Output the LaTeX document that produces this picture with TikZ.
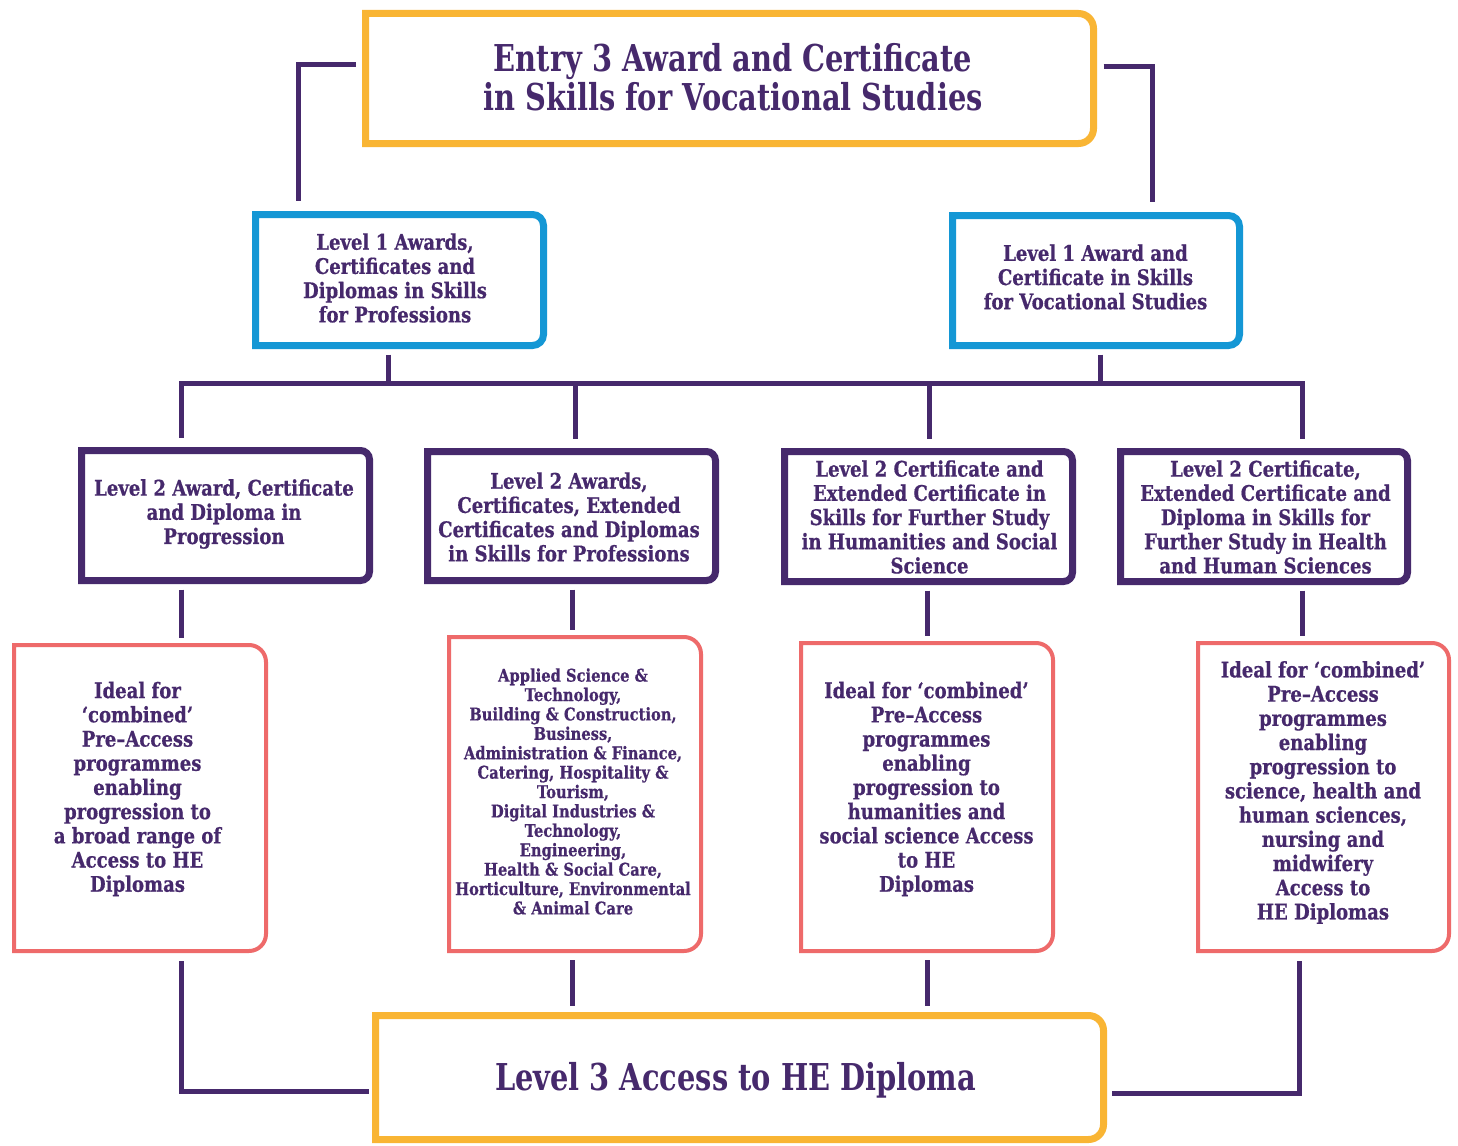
\documentclass[tikz,border=0pt]{standalone}
\usepackage{fontspec}
\newfontfamily\bodyf{DejaVu Serif}[FakeStretch=0.84,FakeBold=0.6]
\newfontfamily\titlef{DejaVu Serif}[FakeStretch=0.78]
\definecolor{cpurple}{HTML}{46296C}
\definecolor{cblue}{HTML}{1497D5}
\definecolor{cyel}{HTML}{F9B534}
\definecolor{cpink}{HTML}{EE6A6A}
% frame with square left corners and rounded right corners
\newcommand\frameit[4]{%
  \begin{scope}[x=1pt,y=1pt]
  \draw[#2, line width=#3, line join=miter]
    (#1.south west) -- (#1.north west) -- ([xshift=-#4pt]#1.north east)
    arc[start angle=90,end angle=0,radius=#4] -- ([yshift=#4pt]#1.south east)
    arc[start angle=0,end angle=-90,radius=#4] -- cycle;
  \end{scope}}
\tikzset{
  box/.style={rectangle, inner sep=0pt, outer sep=0pt},
  conn/.style={draw=cpurple, line width=5pt},
  txt/.style={text=cpurple, align=center, inner sep=0pt},
  ttl/.style={txt, font=\titlef\bfseries\fontsize{37}{39}\selectfont},
  bt/.style={txt, font=\bodyf\bfseries\fontsize{21.5}{24.2}\selectfont},
  st/.style={txt, font=\bodyf\bfseries\fontsize{17.5}{19.4}\selectfont},
}
\begin{document}
\begin{tikzpicture}[x=1pt,y=-1pt]
\useasboundingbox (0,0) rectangle (1458,1145);
\fill[white] (0,0) rectangle (1458,1145);
% boxes
\node[box, minimum width=728pt, minimum height=130pt] (T) at (729.5,78.5) {};
\frameit{T}{cyel}{7pt}{15}
\node[box, minimum width=288pt, minimum height=131pt] (L1a) at (399.5,280) {};
\frameit{L1a}{cblue}{7pt}{11}
\node[box, minimum width=287pt, minimum height=130pt] (L1b) at (1096,280.5) {};
\frameit{L1b}{cblue}{7pt}{11}
\node[box, minimum width=288pt, minimum height=130pt] (L2a) at (225.5,515.5) {};
\frameit{L2a}{cpurple}{7pt}{9}
\node[box, minimum width=288pt, minimum height=129pt] (L2b) at (571.5,516) {};
\frameit{L2b}{cpurple}{7pt}{9}
\node[box, minimum width=288pt, minimum height=130pt] (L2c) at (928.5,516.5) {};
\frameit{L2c}{cpurple}{7pt}{9}
\node[box, minimum width=287pt, minimum height=130pt] (L2d) at (1264,516.5) {};
\frameit{L2d}{cpurple}{7pt}{9}
\node[box, minimum width=252pt, minimum height=306pt] (P1) at (140,798) {};
\frameit{P1}{cpink}{4pt}{17}
\node[box, minimum width=252pt, minimum height=314pt] (P2) at (575,794) {};
\frameit{P2}{cpink}{4pt}{17}
\node[box, minimum width=252pt, minimum height=308pt] (P3) at (927,797) {};
\frameit{P3}{cpink}{4pt}{17}
\node[box, minimum width=251pt, minimum height=308pt] (P4) at (1323.5,797) {};
\frameit{P4}{cpink}{4pt}{17}
\node[box, minimum width=728pt, minimum height=124pt] (B) at (739.5,1077.5) {};
\frameit{B}{cyel}{7pt}{15}
% texts
\node[ttl] (Tt) at (733,77) {Entry 3 Award and Certificate\\in Skills for Vocational Studies};
\node[bt] (L1at) at (395,278) {Level 1 Awards,\\Certificates and\\Diplomas in Skills\\for Professions};
\node[bt] (L1bt) at (1095.5,277) {Level 1 Award and\\Certificate in Skills\\for Vocational Studies};
\node[bt] (L2at) at (224,514) {Level 2 Award, Certificate\\and Diploma in\\Progression};
\node[bt] (L2bt) at (569,517) {Level 2 Awards,\\Certificates, Extended\\Certificates and Diplomas\\in Skills for Professions};
\node[bt] (L2ct) at (929.5,517) {Level 2 Certificate and\\Extended Certificate in\\Skills for Further Study\\in Humanities and Social\\Science};
\node[bt] (L2dt) at (1265.5,517) {Level 2 Certificate,\\Extended Certificate and\\Diploma in Skills for\\Further Study in Health\\and Human Sciences};
\node[bt] (P1t) at (137.5,789) {Ideal for\\‘combined’\\Pre–Access\\programmes\\enabling\\progression to\\a broad range of\\Access to HE\\Diplomas};
\node[st] (P2t) at (573,791.5) {Applied Science \&\\Technology,\\Building \& Construction,\\Business,\\Administration \& Finance,\\Catering, Hospitality \&\\Tourism,\\Digital Industries \&\\Technology,\\Engineering,\\Health \& Social Care,\\Horticulture, Environmental\\\& Animal Care};
\node[bt] (P3t) at (926.5,789) {Ideal for ‘combined’\\Pre–Access\\programmes\\enabling\\progression to\\humanities and\\social science Access\\to HE\\Diplomas};
\node[bt] (P4t) at (1323,792.5) {Ideal for ‘combined’\\Pre–Access\\programmes\\enabling\\progression to\\science, health and\\human sciences,\\nursing and\\midwifery\\Access to\\HE Diplomas};
\node[ttl] (Bt) at (735.5,1080) {Level 3 Access to HE Diploma};
% coordinates
\coordinate (c1) at (298,65);
\coordinate (c2) at (1152,67);
\coordinate (bL) at (181,383);
\coordinate (bR) at (1302,383);
\coordinate (u1) at (388,383);
\coordinate (u2) at (1100,383);
\coordinate (d2) at (575,383);
\coordinate (d3) at (929,383);
\coordinate (x2) at (572,0);
\coordinate (x3) at (927,0);
\coordinate (e1) at (181,1091);
\coordinate (e2) at (1299,1093);
% connectors
\draw[conn, shorten <=10pt, shorten >=14pt] (T.west |- c1) -- (c1) -- (c1 |- L1a.north);
\draw[conn, shorten <=10pt, shorten >=14pt] (T.east |- c2) -- (c2) -- (c2 |- L1b.north);
\draw[conn, shorten <=13pt, shorten >=13pt] (bL |- L2a.north) -- (bL) -- (bR) -- (bR |- L2d.north);
\draw[conn, shorten <=9pt] (L1a.south -| u1) -- (u1);
\draw[conn, shorten <=9pt] (L1b.south -| u2) -- (u2);
\draw[conn, shorten >=13pt] (d2) -- (d2 |- L2b.north);
\draw[conn, shorten >=13pt] (d3) -- (d3 |- L2c.north);
\draw[conn, shorten <=9pt, shorten >=7pt] (L2a.south -| bL) -- (P1.north -| bL);
\draw[conn, shorten <=9pt, shorten >=7pt] (L2b.south -| x2) -- (P2.north -| x2);
\draw[conn, shorten <=9pt, shorten >=7pt] (L2c.south -| x3) -- (P3.north -| x3);
\draw[conn, shorten <=9pt, shorten >=7pt] (L2d.south -| bR) -- (P4.north -| bR);
\draw[conn, shorten <=10pt, shorten >=7pt] (P1.south -| e1) -- (e1) -- (B.west |- e1);
\draw[conn, shorten <=9pt, shorten >=10pt] (P2.south -| x2) -- (B.north -| x2);
\draw[conn, shorten <=9pt, shorten >=10pt] (P3.south -| x3) -- (B.north -| x3);
\draw[conn, shorten <=10pt, shorten >=8pt] (P4.south -| e2) -- (e2) -- (B.east |- e2);
\end{tikzpicture}
\end{document}
